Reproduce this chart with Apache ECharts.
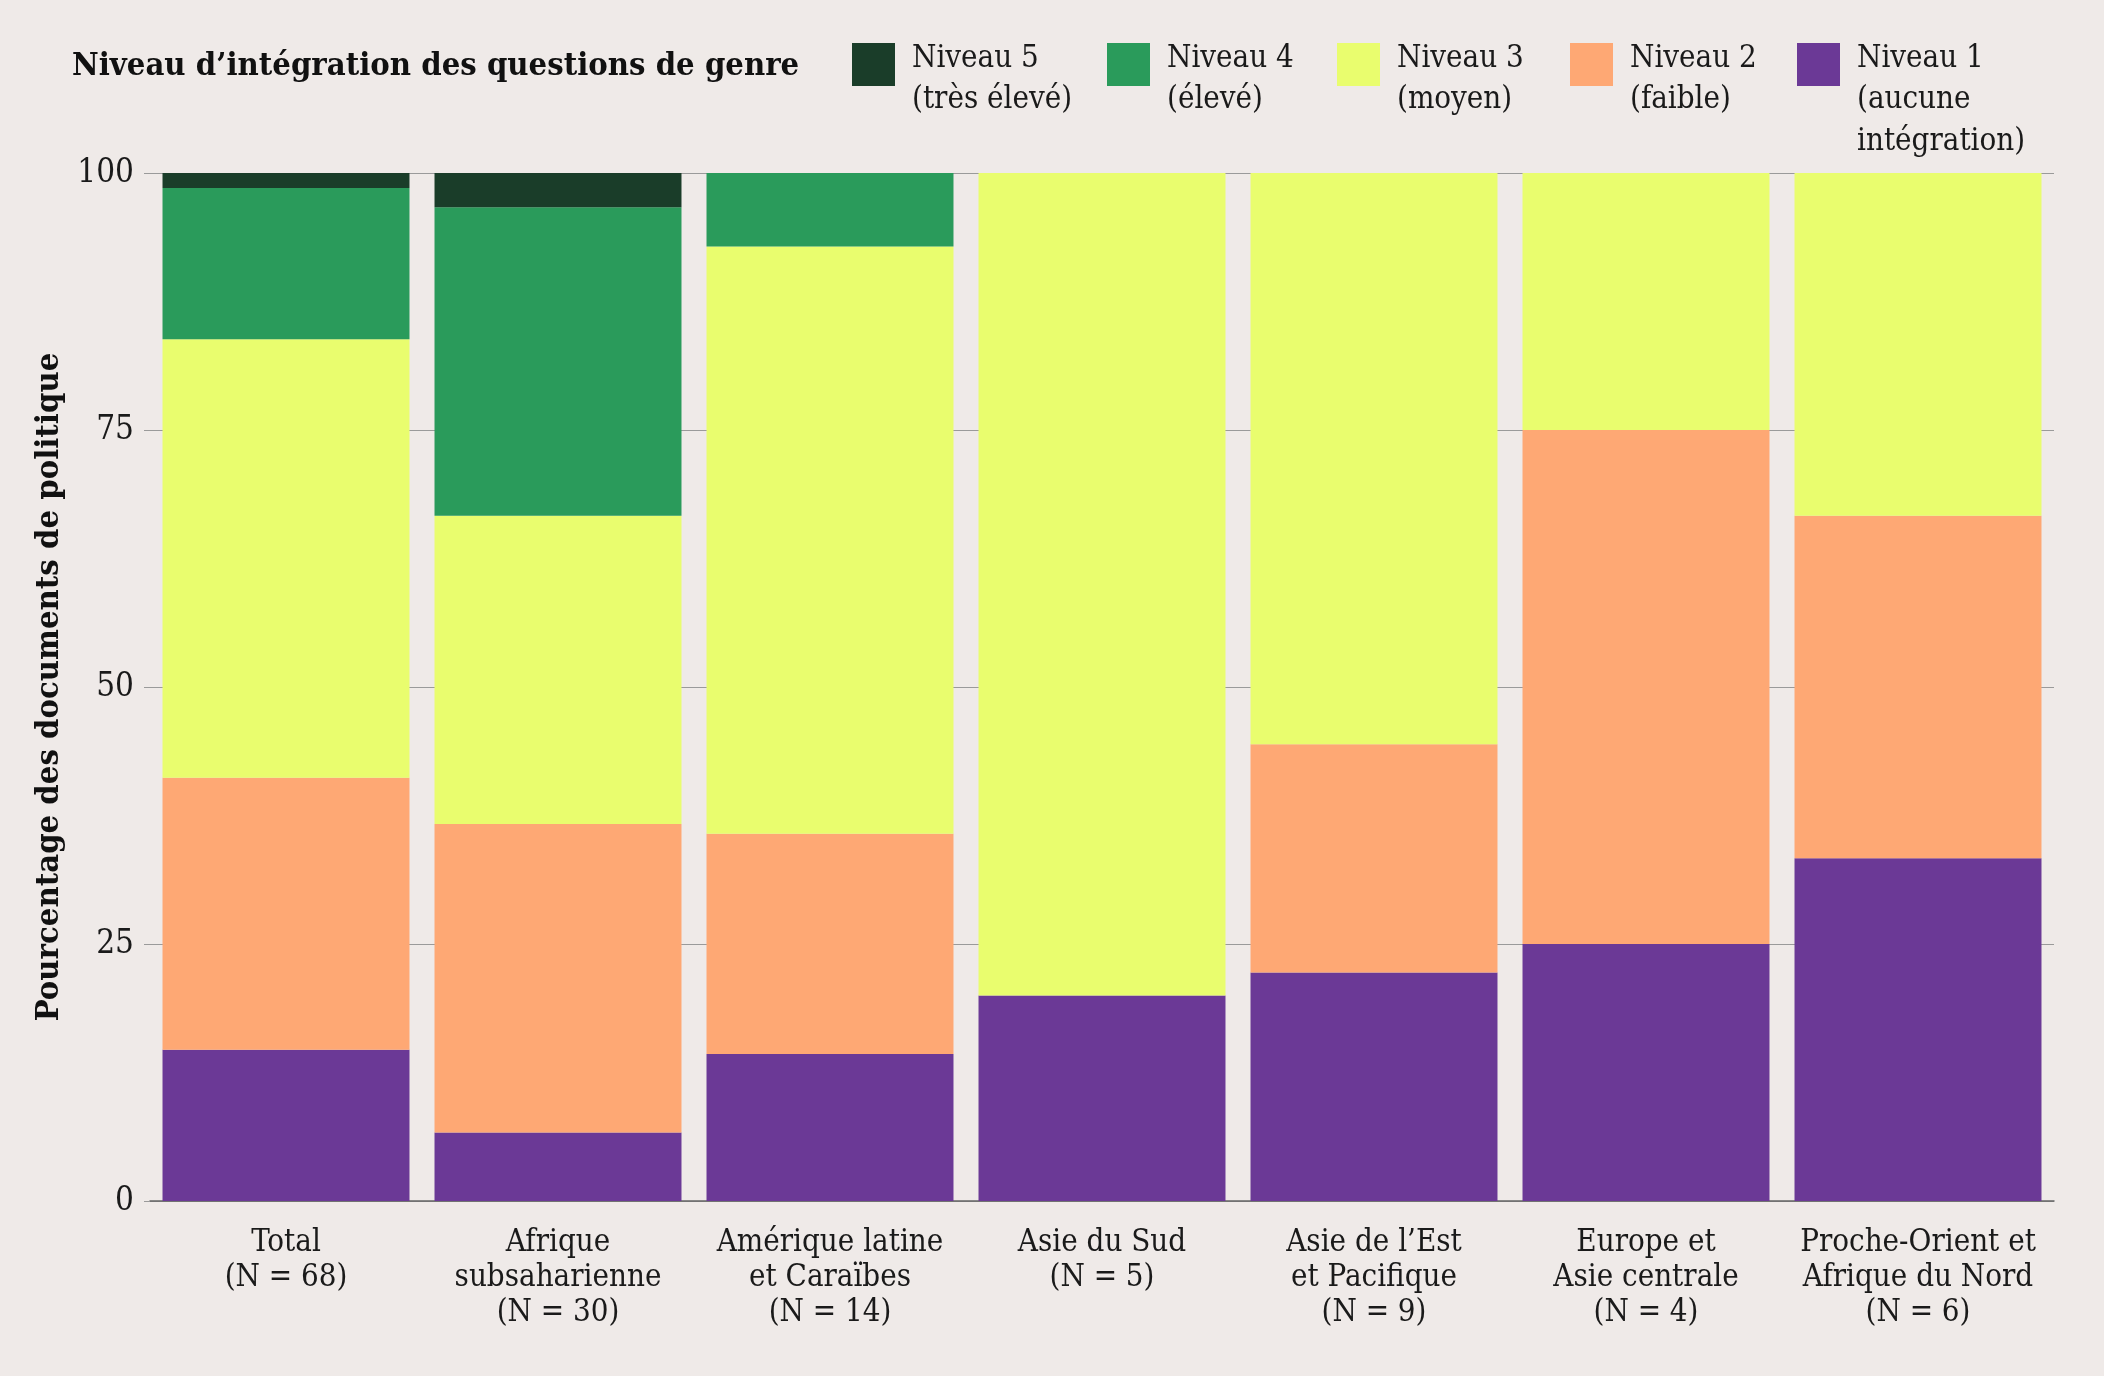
<!DOCTYPE html>
<html><head><meta charset="utf-8">
<script src="https://cdn.jsdelivr.net/npm/echarts@6/dist/echarts.min.js"></script>
<style>html,body{margin:0;padding:0;background:#efeae8}#c{width:2104px;height:1376px}</style>
</head><body><div id="c"></div>
<script>
const categories = ['Total\n(N = 68)', 'Afrique\nsubsaharienne\n(N = 30)', 'Amérique latine\net Caraïbes\n(N = 14)', 'Asie du Sud\n(N = 5)', 'Asie de l’Est\net Pacifique\n(N = 9)', 'Europe et\nAsie centrale\n(N = 4)', 'Proche-Orient et\nAfrique du Nord\n(N = 6)'];
const seriesNames = ['Niveau 1\n(aucune\nintégration)', 'Niveau 2\n(faible)', 'Niveau 3\n(moyen)', 'Niveau 4\n(élevé)', 'Niveau 5\n(très élevé)'];
const niveau1 = [14.71, 6.67, 14.29, 20, 22.22, 25, 33.33];
const niveau2 = [26.47, 30, 21.43, 0, 22.22, 50, 33.33];
const niveau3 = [42.65, 30, 57.14, 80, 55.56, 25, 33.33];
const niveau4 = [14.71, 30, 7.14, 0, 0, 0, 0];
const niveau5 = [1.47, 3.33, 0, 0, 0, 0, 0];
const colors = ['#6b3996', '#fea874', '#e9fd6e', '#2a9b5b', '#1a3d29'];
const title = 'Niveau d’intégration des questions de genre';
const yTitle = 'Pourcentage des documents de politique';

const FONT = "'DejaVu Serif Condensed', 'DejaVu Serif', serif";
const values = [niveau1, niveau2, niveau3, niveau4, niveau5];
const legendX = [1797, 1570, 1337, 1107, 852];

const LH = 41.5;
const legends = seriesNames.map((n, i) => {
  const lines = n.split('\n').length;
  const spacer = lines === 3 ? 71 : 29.5;
  const bboxTop = 21.5 - (spacer + LH * lines) / 2;
  return {
    left: legendX[i], top: 43 + bboxTop, padding: 0,
    selectedMode: false, itemWidth: 43, itemHeight: 43, icon: 'rect',
    data: [n],
    formatter: (name) => '{s| }\n' + name,
    textStyle: {
      fontFamily: FONT, fontSize: 31, lineHeight: LH, color: '#1a1a1a', padding: [0, 0, 0, 12],
      rich: { s: { fontSize: 1, lineHeight: spacer } }
    }
  };
});

const chart = echarts.init(document.getElementById('c'), null, { renderer: 'canvas' });
chart.setOption({
  backgroundColor: '#efeae8',
  animation: false,
  color: colors,
  title: {
    text: title, left: 67, top: 42,
    textStyle: { fontFamily: FONT, fontSize: 32.5, fontWeight: 'bold', color: '#111', lineHeight: 40 }
  },
  legend: legends,
  grid: { left: 150, right: 50, top: 173, bottom: 175, outerBoundsMode: 'none' },
  xAxis: {
    type: 'category', data: categories,
    axisTick: { show: false },
    axisLine: { lineStyle: { color: '#666', width: 1.5 } },
    axisLabel: { fontFamily: FONT, fontSize: 31, lineHeight: 35, color: '#1a1a1a', margin: 24, interval: 0 }
  },
  yAxis: {
    type: 'value', min: 0, max: 100, interval: 25,
    name: yTitle, nameLocation: 'middle', nameGap: 72,
    nameTextStyle: { fontFamily: FONT, fontSize: 32.5, fontWeight: 'bold', color: '#111' },
    axisLine: { show: false },
    axisTick: { show: true, length: 6, lineStyle: { color: '#9a9a9a' } },
    axisLabel: { fontFamily: FONT, fontSize: 33, color: '#1a1a1a', margin: 16 },
    splitLine: { lineStyle: { color: '#9a9a9a', width: 1 } }
  },
  series: values.map((v, i) => ({
    name: seriesNames[i], type: 'bar', stack: 'total', data: v,
    barCategoryGap: '9.2%',
    itemStyle: { color: colors[i] },
    emphasis: { disabled: true }
  }))
});
</script></body></html>
